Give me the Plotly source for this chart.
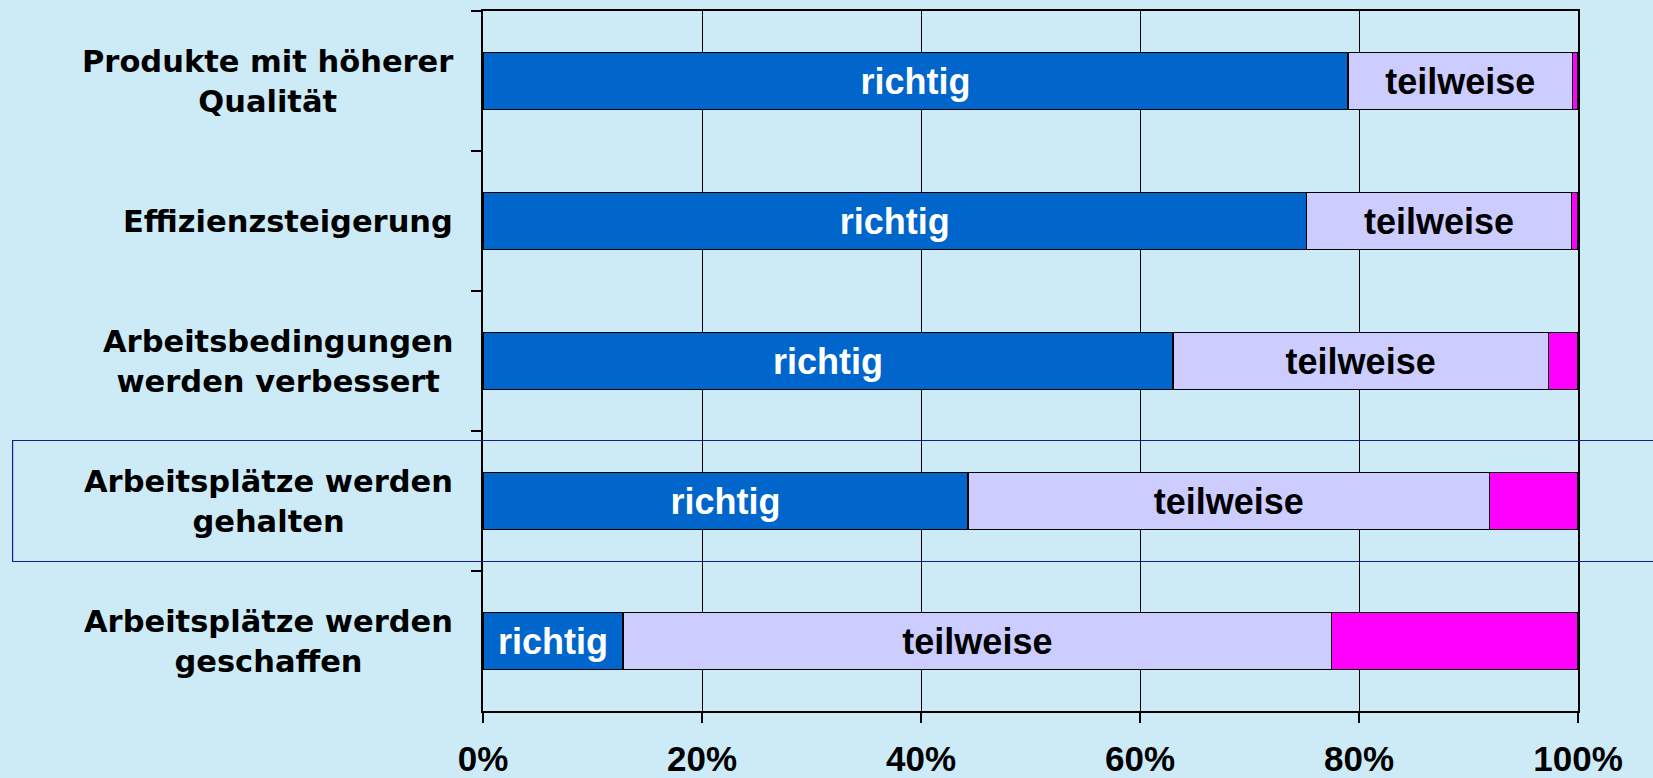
import plotly.graph_objects as go

# ---- data (top to bottom) ----
categories = [
    "Produkte mit höherer<br>Qualität",
    "Effizienzsteigerung",
    "Arbeitsbedingungen<br>werden verbessert",
    "Arbeitsplätze werden<br>gehalten",
    "Arbeitsplätze werden<br>geschaffen",
]
richtig = [79.0, 75.2, 63.0, 44.3, 12.8]
teilweise = [20.5, 24.2, 34.3, 47.6, 64.7]
falsch = [0.5, 0.6, 2.7, 8.1, 22.5]
series_names = ["richtig", "teilweise", "falsch"]
x_tick_values = [0, 20, 40, 60, 80, 100]
x_tick_labels = ["0%", "20%", "40%", "60%", "80%", "100%"]
highlighted_category = "Arbeitsplätze werden<br>gehalten"

BG = "#CDEBF6"
ARIAL = "Liberation Sans, Arial, sans-serif"
WIDE = "DejaVu Sans, Verdana, sans-serif"

fig = go.Figure()
series = [
    (series_names[0], richtig, "#0066CC", "white", True),
    (series_names[1], teilweise, "#CCCCFF", "black", True),
    (series_names[2], falsch, "#FF00FF", "black", False),
]
for name, vals, col, tcol, show_text in series:
    fig.add_trace(go.Bar(
        y=categories, x=vals, name=name, orientation="h",
        marker=dict(color=col, line=dict(color="black", width=1.6)),
        text=[name] * len(vals) if show_text else None,
        textposition="inside" if show_text else "none",
        insidetextanchor="middle",
        textangle=0,
        textfont=dict(family=ARIAL, size=36, color=tcol, weight="bold"),
        showlegend=False,
        hoverinfo="skip",
    ))

# category labels: centred lines, right-aligned block
for cat in categories:
    fig.add_annotation(
        xref="paper", x=0, xanchor="right", xshift=-28,
        yref="y", y=cat, yanchor="middle",
        text=cat, showarrow=False, align="center",
        font=dict(family=WIDE, size=30.5, color="black", weight="bold"),
    )

# highlight frame around one category
idx = categories.index(highlighted_category)
fig.add_shape(
    type="rect", xref="paper", yref="y",
    x0=-0.4296, x1=1.08, y0=idx - 0.432, y1=idx + 0.432,
    line=dict(color="#1A1A8C", width=1.2), fillcolor="rgba(0,0,0,0)",
    layer="above",
)

fig.update_layout(
    width=1653, height=778,
    margin=dict(l=483, r=75, t=11, b=67, autoexpand=False),
    paper_bgcolor=BG, plot_bgcolor=BG,
    barmode="stack", bargap=0.593,
    showlegend=False,
    xaxis=dict(
        range=[0, 100], tickvals=x_tick_values, ticktext=x_tick_labels,
        showgrid=True, gridcolor="black", gridwidth=1,
        zeroline=False, showline=True, linecolor="black", linewidth=1.5,
        mirror=True, ticks="outside", ticklen=10, tickwidth=1.5, tickcolor="black",
        tickfont=dict(family=ARIAL, size=35, color="black", weight="bold"),
        ticklabelstandoff=6, automargin=False,
    ),
    yaxis=dict(
        type="category", categoryorder="array", categoryarray=categories,
        range=[len(categories) - 0.5, -0.5],
        showgrid=False, zeroline=False, showline=True, linecolor="black",
        linewidth=1.5, mirror=True, ticks="outside", ticklen=10, tickwidth=1.5,
        tickcolor="black", tickson="boundaries", showticklabels=False,
        automargin=False,
    ),
)

fig.write_html(
    "out.html",
    config={"displayModeBar": False},
    post_script="document.body.style.margin='0';document.body.style.overflow='hidden';",
)
